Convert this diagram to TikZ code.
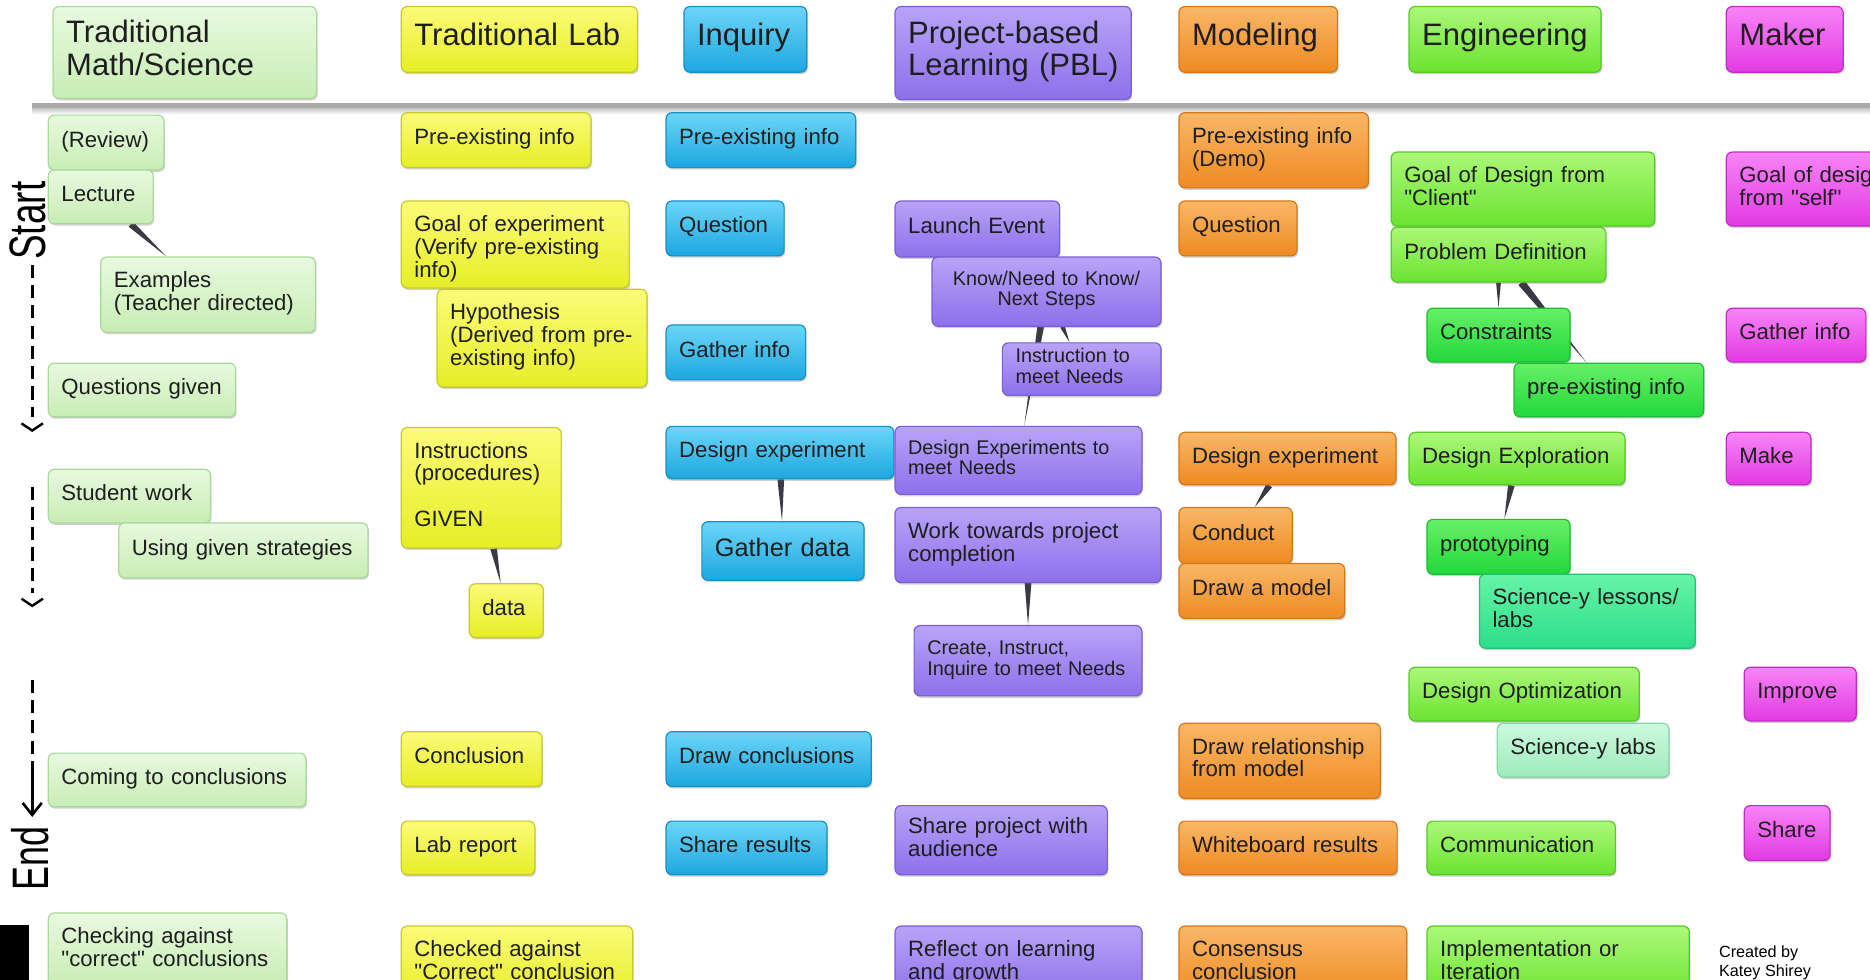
\documentclass[tikz,border=0pt]{standalone}
\usepackage{fontspec}
\setmainfont{Liberation Sans}[Ligatures=TeXOff]
\usepackage{tikz}
\usetikzlibrary{calc, shadows, backgrounds, arrows.meta}
\definecolor{mathtop}{HTML}{E8F9DF}
\definecolor{mathbot}{HTML}{C8EDB4}
\definecolor{mathline}{HTML}{AAD99C}
\definecolor{labtop}{HTML}{FBFB78}
\definecolor{labbot}{HTML}{E6EE26}
\definecolor{labline}{HTML}{C6CA2C}
\definecolor{inqtop}{HTML}{6CD5F7}
\definecolor{inqbot}{HTML}{1CA7E0}
\definecolor{inqline}{HTML}{1890C6}
\definecolor{pbltop}{HTML}{B7A4F8}
\definecolor{pblbot}{HTML}{8C70EA}
\definecolor{pblline}{HTML}{7A5ED6}
\definecolor{modtop}{HTML}{F9B766}
\definecolor{modbot}{HTML}{EE8A22}
\definecolor{modline}{HTML}{D6781A}
\definecolor{engtop}{HTML}{ACF878}
\definecolor{engbot}{HTML}{6AE330}
\definecolor{engline}{HTML}{56C828}
\definecolor{brighttop}{HTML}{66F066}
\definecolor{brightbot}{HTML}{22D83A}
\definecolor{brightline}{HTML}{1CBC32}
\definecolor{tealtop}{HTML}{66F3A8}
\definecolor{tealbot}{HTML}{2CDE88}
\definecolor{tealline}{HTML}{22C276}
\definecolor{minttop}{HTML}{CDF8DE}
\definecolor{mintbot}{HTML}{9DEBBC}
\definecolor{mintline}{HTML}{86D8A4}
\definecolor{maktop}{HTML}{F784F7}
\definecolor{makbot}{HTML}{E23AE2}
\definecolor{makline}{HTML}{C42AC4}
\definecolor{twigcol}{HTML}{3A3A44}
\definecolor{inkcol}{HTML}{1E1E1E}
\definecolor{barcol}{HTML}{A8A8A8}
\newcommand{\tx}[1]{\begin{tabular}{@{}l@{}}#1\end{tabular}}
\newcommand{\txc}[1]{\begin{tabular}{@{}c@{}}#1\end{tabular}}
\newcommand{\twig}[3][1.4pt]{%
  \path (#2) -- (#3) coordinate[pos=0] (twa) coordinate[pos=1] (twb);
  \fill[twigcol] ($(twa)!#1!90:(twb)$) -- (twb) -- ($(twa)!#1!-90:(twb)$) -- cycle;}
\begin{document}
\begin{tikzpicture}[x=0.5pt, y=-0.5pt,
    card/.style={anchor=north west, rounded corners=2.5pt, line width=0.5pt,
      inner xsep=5.5pt, inner ysep=1pt, text=inkcol,
      font=\fontsize{9.3}{9.6}\selectfont,
      drop shadow={shadow xshift=0.4pt, shadow yshift=-0.8pt, opacity=0.3, fill=black!60}},
    wh/.style 2 args={text width=#1*0.5pt-11pt, minimum height=#2*0.5pt},
    headtext/.style={font=\fontsize{13}{13.5}\selectfont},
    smalltext/.style={font=\fontsize{8.3}{8.6}\selectfont},
    bigtext/.style={font=\fontsize{10.6}{11}\selectfont},
    mathbox/.style={card, top color=mathtop, bottom color=mathbot, draw=mathline},
    labbox/.style={card, top color=labtop, bottom color=labbot, draw=labline},
    inqbox/.style={card, top color=inqtop, bottom color=inqbot, draw=inqline},
    pblbox/.style={card, top color=pbltop, bottom color=pblbot, draw=pblline},
    modbox/.style={card, top color=modtop, bottom color=modbot, draw=modline},
    engbox/.style={card, top color=engtop, bottom color=engbot, draw=engline},
    brightbox/.style={card, top color=brighttop, bottom color=brightbot, draw=brightline},
    tealbox/.style={card, top color=tealtop, bottom color=tealbot, draw=tealline},
    mintbox/.style={card, top color=minttop, bottom color=mintbot, draw=mintline},
    makbox/.style={card, top color=maktop, bottom color=makbot, draw=makline},
    axisdash/.style={line width=1.2pt, dash pattern=on 5.5pt off 3pt},
    axistext/.style={rotate=90, inner sep=0pt, font=\fontsize{21.5}{22}\selectfont}]
  \useasboundingbox (0,0) rectangle (1568,821);
  \clip (0,0) rectangle (1568,821);
  \begin{scope}[on background layer]
    \fill[white] (0,0) rectangle (1568,821);
  \end{scope}

  \fill[barcol] (27,86) rectangle (1568,91);
  \shade[top color=barcol!60, bottom color=white] (27,91) rectangle (1568,96);

  \node[mathbox, headtext, wh={221}{77}] (mhead) at (44,5) {\tx{Traditional\\Math/Science}};
  \node[labbox, headtext, wh={198}{55}] (lhead) at (336,5) {\tx{Traditional Lab}};
  \node[inqbox, headtext, wh={103}{55}] (ihead) at (573,5) {\tx{Inquiry}};
  \node[pblbox, headtext, wh={198}{78}] (phead) at (750,5) {\tx{Project-based\\Learning (PBL)}};
  \node[modbox, headtext, wh={133}{55}] (dhead) at (988,5) {\tx{Modeling}};
  \node[engbox, headtext, wh={161}{55}] (ehead) at (1181,5) {\tx{Engineering}};
  \node[makbox, headtext, wh={98}{55}] (khead) at (1447,5) {\tx{Maker}};

  \node[mathbox, wh={97}{46}] (review) at (40,96) {\tx{(Review)}};
  \node[mathbox, wh={88}{45}] (lecture) at (40,142) {\tx{Lecture}};
  \node[mathbox, wh={180}{63}] (examples) at (84,215) {\tx{Examples\\(Teacher directed)}};
  \node[mathbox, wh={157}{45}] (qgiven) at (40,304) {\tx{Questions given}};
  \node[mathbox, wh={136}{45}] (stwork) at (40,393) {\tx{Student work}};
  \node[mathbox, wh={209}{46}] (usegiven) at (99,438) {\tx{Using given strategies}};
  \node[mathbox, wh={216}{45}] (coming) at (40,631) {\tx{Coming to conclusions}};
  \node[mathbox, wh={200}{62}] (checking) at (40,765) {\tx{Checking against\\"correct" conclusions}};

  \node[labbox, wh={159}{46}] (lpre) at (336,94) {\tx{Pre-existing info}};
  \node[labbox, wh={191}{73}] (lgoal) at (336,168) {\tx{Goal of experiment\\(Verify pre-existing\\info)\\[-4.5pt]}};
  \node[labbox, wh={176}{82}] (lhyp) at (366,242) {\tx{Hypothesis\\(Derived from pre-\\existing info)}};
  \node[labbox, wh={134}{101}] (linstr) at (336,358) {\tx{Instructions\\(procedures)\\[9.6pt]GIVEN}};
  \node[labbox, wh={62}{45}] (ldata) at (393,489) {\tx{data}};
  \node[labbox, wh={118}{46}] (lconc) at (336,613) {\tx{Conclusion}};
  \node[labbox, wh={112}{45}] (lreport) at (336,688) {\tx{Lab report}};
  \node[labbox, wh={194}{62}] (lchecked) at (336,776) {\tx{Checked against\\"Correct" conclusion}};

  \node[inqbox, wh={159}{46}] (ipre) at (558,94) {\tx{Pre-existing info}};
  \node[inqbox, wh={99}{46}] (iquest) at (558,168) {\tx{Question}};
  \node[inqbox, wh={117}{46}] (igather) at (558,272) {\tx{Gather info}};
  \node[inqbox, wh={191}{44}] (idesign) at (558,357) {\tx{Design experiment}};
  \node[inqbox, bigtext, wh={136}{49}] (idata) at (588,437) {\tx{Gather data}};
  \node[inqbox, wh={172}{46}] (iconc) at (558,613) {\tx{Draw conclusions}};
  \node[inqbox, wh={135}{45}] (ishare) at (558,688) {\tx{Share results}};

  \node[pblbox, wh={138}{47}] (plaunch) at (750,168) {\tx{Launch Event}};
  \node[pblbox, smalltext, align=center, wh={192}{58}] (pknow) at (781,215) {\txc{Know/Need to Know/\\Next Steps}};
  \node[pblbox, smalltext, wh={133}{44}] (pinstr) at (840,287) {\tx{Instruction to\\meet Needs}};
  \node[pblbox, smalltext, wh={207}{57}] (pdesign) at (750,357) {\tx{Design Experiments to\\meet Needs}};
  \node[pblbox, wh={223}{63}] (pwork) at (750,425) {\tx{Work towards project\\completion}};
  \node[pblbox, smalltext, wh={191}{59}] (pcreate) at (766,524) {\tx{Create, Instruct,\\Inquire to meet Needs}};
  \node[pblbox, wh={178}{58}] (pshare) at (750,675) {\tx{Share project with\\audience}};
  \node[pblbox, wh={207}{62}] (preflect) at (750,776) {\tx{Reflect on learning\\and growth}};

  \node[modbox, wh={159}{63}] (dpre) at (988,94) {\tx{Pre-existing info\\(Demo)}};
  \node[modbox, wh={99}{46}] (dquest) at (988,168) {\tx{Question}};
  \node[modbox, wh={182}{44}] (ddesign) at (988,362) {\tx{Design experiment}};
  \node[modbox, wh={95}{47}] (dconduct) at (988,425) {\tx{Conduct}};
  \node[modbox, wh={139}{46}] (dmodel) at (988,472) {\tx{Draw a model}};
  \node[modbox, wh={169}{63}] (drel) at (988,606) {\tx{Draw relationship\\from model}};
  \node[modbox, wh={183}{45}] (dwhite) at (988,688) {\tx{Whiteboard results}};
  \node[modbox, wh={191}{62}] (dcons) at (988,776) {\tx{Consensus\\conclusion}};

  \node[engbox, wh={221}{62}] (egoal) at (1166,127) {\tx{Goal of Design from\\"Client"}};
  \node[engbox, wh={180}{46}] (eprob) at (1166,190) {\tx{Problem Definition}};
  \node[brightbox, wh={120}{45}] (econs) at (1196,258) {\tx{Constraints}};
  \node[brightbox, wh={159}{45}] (epre) at (1269,304) {\tx{pre-existing info}};
  \node[engbox, wh={181}{44}] (eexplore) at (1181,362) {\tx{Design Exploration}};
  \node[brightbox, wh={120}{46}] (eproto) at (1196,435) {\tx{prototyping}};
  \node[tealbox, wh={181}{62}] (elessons) at (1240,481) {\tx{Science-y lessons/\\labs}};
  \node[engbox, wh={193}{45}] (eoptim) at (1181,559) {\tx{Design Optimization}};
  \node[mintbox, wh={144}{45}] (elabs) at (1255,606) {\tx{Science-y labs}};
  \node[engbox, wh={158}{45}] (ecomm) at (1196,688) {\tx{Communication}};
  \node[engbox, wh={220}{62}] (eimpl) at (1196,776) {\tx{Implementation or\\Iteration}};

  \node[makbox, wh={160}{62}] (kgoal) at (1447,127) {\tx{Goal of design\\from "self"}};
  \node[makbox, wh={117}{45}] (kgather) at (1447,258) {\tx{Gather info}};
  \node[makbox, wh={71}{44}] (kmake) at (1447,362) {\tx{Make}};
  \node[makbox, wh={94}{45}] (kimprove) at (1462,559) {\tx{Improve}};
  \node[makbox, wh={72}{46}] (kshare) at (1462,675) {\tx{Share}};

  \node[anchor=north west, inner sep=0pt, align=left, font=\fontsize{6.8}{7.6}\selectfont] (credit) at (1441,793) {Created by\\Katey Shirey};

  \begin{scope}[on background layer]
    \twig{lecture}{examples}
    \twig{linstr}{ldata}
    \twig{idesign}{idata}
    \twig{pknow}{pdesign}
    \twig[1pt]{pknow}{pinstr}
    \twig{pwork}{pcreate}
    \twig{ddesign}{dconduct}
    \twig[1pt]{eprob}{econs}
    \twig[1.6pt]{eprob}{epre}
    \twig{eexplore}{eproto}
  \end{scope}

  \node[axistext] (start) at (23.5,185) {\scalebox{0.72}[1]{Start}};
  \node[axistext] (finish) at (25,720) {\scalebox{0.7}[1]{End}};
  \coordinate (a1) at (27,222);
  \coordinate (a2) at (27,350);
  \coordinate (b1) at (27,408);
  \coordinate (b2) at (27,497);
  \coordinate (c1) at (27,570);
  \coordinate (c2) at (27,640);
  \coordinate (c3) at (27,685);
  \draw[axisdash] (a1) -- (a2);
  \draw[axisdash] (b1) -- (b2);
  \draw[axisdash] (c1) -- (c2);
  \draw[line width=1.1pt, -{Straight Barb[length=5pt, width=8pt]}] (c2) -- (c3);
  \draw[line width=1pt] ($(a2)+(-9,5)$) -- ($(a2)+(0,11)$) -- ($(a2)+(9,5)$);
  \draw[line width=1pt] ($(b2)+(-9,5)$) -- ($(b2)+(0,11)$) -- ($(b2)+(9,5)$);
  \fill[black] (0,776) rectangle (24,830);
\end{tikzpicture}
\end{document}
